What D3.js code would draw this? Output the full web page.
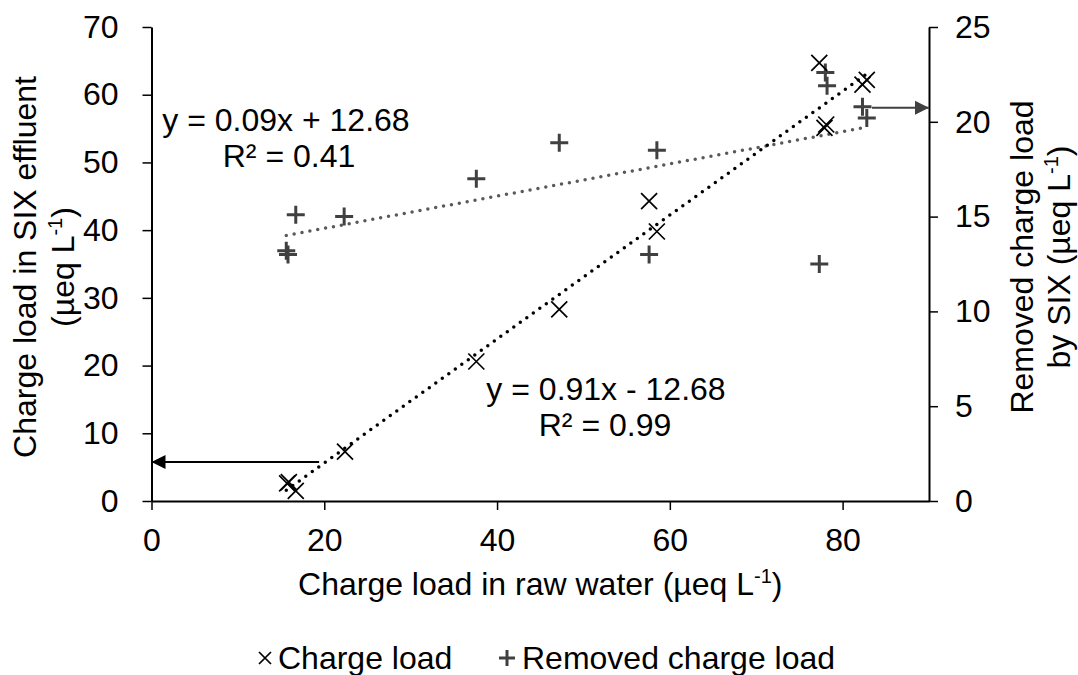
<!DOCTYPE html>
<html>
<head>
<meta charset="utf-8">
<script src="https://cdn.jsdelivr.net/npm/d3@7"></script>
<style>
  body { margin: 0; background: #fff; }
  text { font-family: "Liberation Sans", Arial, sans-serif; fill: #000; }
  .axis path, .axis line { stroke: #000; stroke-width: 1.5; }
  .axis text { font-size: 32px; }
</style>
</head>
<body>
<div id="chart"></div>
<script>
// charge load in raw water vs charge load in SIX effluent (x markers)
var rawX = [15.7, 15.9, 16.7, 22.4, 37.6, 47.2, 57.6, 58.5, 77.3, 78.1, 77.9, 82.8, 82.3];
var effluent = [2.6, 2.8, 1.5, 7.3, 20.6, 28.3, 44.3, 39.8, 64.7, 55.6, 55.1, 62.2, 61.5];

// removed charge load (+ markers, right axis)
var removedX = [15.6, 15.8, 16.7, 22.3, 37.6, 47.2, 57.6, 58.5, 77.3, 78.0, 78.2, 82.3, 82.8];
var removed = [13.2, 13.0, 15.1, 15.0, 17.0, 18.9, 13.0, 18.5, 12.5, 22.6, 21.9, 20.8, 20.2];

// trend lines: [effluent, removed]
var trendSlope = [0.915, 0.085];
var trendIntercept = [-12.68, 12.68];
var trendRange = [15.6, 82.8];
var eqText = ["y = 0.91x - 12.68", "y = 0.09x + 12.68"];
var r2Text = ["R² = 0.99", "R² = 0.41"];

// tick labels
var xTicks = [0, 20, 40, 60, 80];
var yLeftTicks = [0, 10, 20, 30, 40, 50, 60, 70];
var yRightTicks = [0, 5, 10, 15, 20, 25];

var width = 1078;
var height = 675;
var margin = {left: 151.5, top: 27, right: 149, bottom: 174};

var svg = d3.select("#chart")
	.append("svg")
	.attr("width", width)
	.attr("height", height);

var x = d3.scaleLinear()
	.domain([0, 90])
	.range([margin.left, width - margin.right]);
var yLeft = d3.scaleLinear()
	.domain([0, 70])
	.range([height - margin.bottom, margin.top]);
var yRight = d3.scaleLinear()
	.domain([0, 25])
	.range([height - margin.bottom, margin.top]);

// arrow heads
var defs = svg.append("defs");
defs.append("marker")
	.attr("id", "headBlack")
	.attr("viewBox", "0 0 10 10")
	.attr("refX", 10).attr("refY", 5)
	.attr("markerUnits", "userSpaceOnUse")
	.attr("markerWidth", 14).attr("markerHeight", 15)
	.attr("orient", "auto")
	.append("path")
	.attr("d", "M0,0 L10,5 L0,10 Z")
	.style("fill", "#000");
defs.append("marker")
	.attr("id", "headGrey")
	.attr("viewBox", "0 0 10 10")
	.attr("refX", 10).attr("refY", 5)
	.attr("markerUnits", "userSpaceOnUse")
	.attr("markerWidth", 14).attr("markerHeight", 15)
	.attr("orient", "auto")
	.append("path")
	.attr("d", "M0,0 L10,5 L0,10 Z")
	.style("fill", "#404040");

// axes
svg.append("g")
	.attr("class", "axis")
	.attr("transform", "translate(0," + (height - margin.bottom) + ")")
	.call(d3.axisBottom(x).tickValues(xTicks).tickSize(9).tickPadding(18).tickSizeOuter(0));
svg.append("g")
	.attr("class", "axis")
	.attr("transform", "translate(" + margin.left + ",0)")
	.call(d3.axisLeft(yLeft).tickValues(yLeftTicks).tickSize(9).tickPadding(24).tickSizeOuter(0));
svg.append("g")
	.attr("class", "axis")
	.attr("transform", "translate(" + (width - margin.right) + ",0)")
	.call(d3.axisRight(yRight).tickValues(yRightTicks).tickSize(9).tickPadding(17).tickSizeOuter(0));
svg.selectAll(".axis .domain").style("stroke-width", 2);

// axis titles
svg.append("text")
	.attr("x", x(45))
	.attr("y", 595)
	.style("text-anchor", "middle")
	.style("font-size", "32px")
	.html("Charge load in raw water (µeq L<tspan dy='-12' font-size='20px'>-1</tspan><tspan dy='12'>)</tspan>");

var midLeft = 267;
svg.append("text")
	.attr("transform", "translate(36," + midLeft + ") rotate(-90)")
	.style("text-anchor", "middle")
	.style("font-size", "32px")
	.text("Charge load in SIX effluent");
svg.append("text")
	.attr("transform", "translate(74," + midLeft + ") rotate(-90)")
	.style("text-anchor", "middle")
	.style("font-size", "32px")
	.html("(µeq L<tspan dy='-12' font-size='20px'>-1</tspan><tspan dy='12'>)</tspan>");

var midRight = 257;
svg.append("text")
	.attr("transform", "translate(1033," + midRight + ") rotate(-90)")
	.style("text-anchor", "middle")
	.style("font-size", "32px")
	.text("Removed charge load");
svg.append("text")
	.attr("transform", "translate(1070," + midRight + ") rotate(-90)")
	.style("text-anchor", "middle")
	.style("font-size", "32px")
	.html("by SIX (µeq L<tspan dy='-12' font-size='20px'>-1</tspan><tspan dy='12'>)</tspan>");

// trend lines (dotted)
var line = d3.line();
svg.append("path")
	.attr("d", line(trendRange.map(function(v) { return [x(v), yRight(trendSlope[1] * v + trendIntercept[1])]; })))
	.style("fill", "none")
	.style("stroke", "#595959")
	.style("stroke-width", 3.5)
	.style("stroke-linecap", "round")
	.style("stroke-dasharray", "0,8");
svg.append("path")
	.attr("d", line(trendRange.map(function(v) { return [x(v), yLeft(trendSlope[0] * v + trendIntercept[0])]; })))
	.style("fill", "none")
	.style("stroke", "#000")
	.style("stroke-width", 3.5)
	.style("stroke-linecap", "round")
	.style("stroke-dasharray", "0,8");

// markers
var xPath = function(s) { return "M" + -s + "," + -s + "L" + s + "," + s + "M" + -s + "," + s + "L" + s + "," + -s; };
var plusPath = function(s) { return "M" + -s + ",0L" + s + ",0M0," + -s + "L0," + s; };

svg.selectAll(".removed")
	.data(removed)
	.enter()
	.append("path")
	.attr("class", "removed")
	.attr("transform", function(d, i) { return "translate(" + x(removedX[i]) + "," + yRight(d) + ")"; })
	.attr("d", plusPath(9))
	.style("stroke", "#404040")
	.style("stroke-width", 3);

svg.selectAll(".charge")
	.data(effluent)
	.enter()
	.append("path")
	.attr("class", "charge")
	.attr("transform", function(d, i) { return "translate(" + x(rawX[i]) + "," + yLeft(d) + ")"; })
	.attr("d", xPath(8))
	.style("stroke", "#000")
	.style("stroke-width", 1.7);

// equations
svg.append("text").attr("x", 286).attr("y", 131).style("text-anchor", "middle").style("font-size", "32px").text(eqText[1]);
svg.append("text").attr("x", 289).attr("y", 167).style("text-anchor", "middle").style("font-size", "32px").text(r2Text[1]);
svg.append("text").attr("x", 606).attr("y", 400).style("text-anchor", "middle").style("font-size", "32px").text(eqText[0]);
svg.append("text").attr("x", 605).attr("y", 436).style("text-anchor", "middle").style("font-size", "32px").text(r2Text[0]);

// arrows pointing to the axis each series belongs to
svg.append("line")
	.attr("x1", x(19.4)).attr("x2", x(0))
	.attr("y1", yLeft(5.76)).attr("y2", yLeft(5.76))
	.style("stroke", "#000").style("stroke-width", 2)
	.attr("marker-end", "url(#headBlack)");
svg.append("line")
	.attr("x1", x(83.4)).attr("x2", x(90))
	.attr("y1", yRight(20.74)).attr("y2", yRight(20.74))
	.style("stroke", "#404040").style("stroke-width", 2)
	.attr("marker-end", "url(#headGrey)");

// legend
var legend = svg.append("g").attr("transform", "translate(0,658)");
legend.append("path").attr("transform", "translate(265,0)").attr("d", xPath(6)).style("stroke", "#000").style("stroke-width", 1.7);
legend.append("text").attr("x", 278).attr("y", 11).style("font-size", "32px").text("Charge load");
legend.append("path").attr("transform", "translate(507,0)").attr("d", plusPath(8)).style("stroke", "#404040").style("stroke-width", 3);
legend.append("text").attr("x", 522).attr("y", 11).style("font-size", "32px").text("Removed charge load");
</script>
</body>
</html>
